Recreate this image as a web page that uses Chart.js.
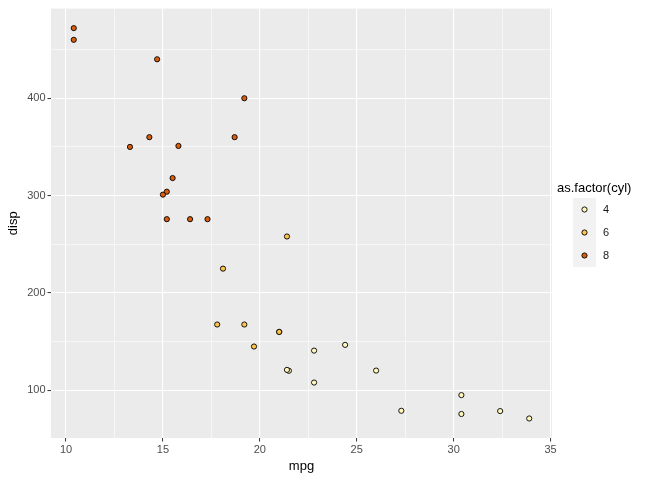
<!DOCTYPE html>
<html>
<head>
<meta charset="utf-8">
<script src="https://cdn.jsdelivr.net/npm/chart.js@4"></script>
<style>
  html, body { margin: 0; padding: 0; background: #fff; }
  #wrap { width: 672px; height: 480px; }
</style>
</head>
<body>
<div id="wrap"><canvas id="chart" width="672" height="480"></canvas></div>
<script>
// mtcars: mpg vs disp, filled by cylinders
const mpg = [21.0, 21.0, 22.8, 21.4, 18.7, 18.1, 14.3, 24.4, 22.8, 19.2, 17.8, 16.4, 17.3, 15.2, 10.4, 10.4,
  14.7, 32.4, 30.4, 33.9, 21.5, 15.5, 15.2, 13.3, 19.2, 27.3, 26.0, 30.4, 15.8, 19.7, 15.0, 21.4]
const disp = [160, 160, 108, 258, 360, 225, 360, 146.7, 140.8, 167.6, 167.6, 275.8, 275.8, 275.8, 472, 460,
  440, 78.7, 75.7, 71.1, 120.1, 318, 304, 350, 400, 79, 120.3, 95.1, 351, 145, 301, 121]
const cyl = [6, 6, 4, 6, 8, 6, 8, 4, 4, 6, 6, 8, 8, 8, 8, 8, 8, 4, 4, 4, 4, 8, 8, 8, 8, 4, 4, 4, 8, 6, 8, 4]

const cylLevels = [4, 6, 8]
const fills = ['#FFF7BC', '#FEC44F', '#D95F0E']

const xMajor = [10, 15, 20, 25, 30, 35]
const xMinor = [12.5, 17.5, 22.5, 27.5, 32.5]
const yMajor = [100, 200, 300, 400]
const yMinor = [150, 250, 350, 450]

const datasets = cylLevels.map(function (c, i) {
  const pts = []
  for (let k = 0; k < mpg.length; k++) {
    if (cyl[k] === c) pts.push({ x: mpg[k], y: disp[k] })
  }
  return {
    label: String(c),
    data: pts,
    backgroundColor: fills[i],
    borderColor: '#000',
    borderWidth: 0.9,
    pointRadius: 2.6,
    pointHoverRadius: 2.6
  }
})

const panelBg = {
  id: 'panelBg',
  beforeDraw(chart) {
    const a = chart.chartArea
    const ctx = chart.ctx
    ctx.save()
    ctx.fillStyle = '#EBEBEB'
    ctx.fillRect(a.left, a.top, a.right - a.left, a.bottom - a.top)
    ctx.restore()
  }
}

const ggLegend = {
  id: 'ggLegend',
  afterDraw(chart) {
    const ctx = chart.ctx
    ctx.save()
    ctx.fillStyle = '#000'
    ctx.font = '13px "Liberation Sans", Arial, sans-serif'
    ctx.textBaseline = 'middle'
    ctx.textAlign = 'left'
    ctx.fillText('as.factor(cyl)', 557, 188)
    ctx.fillStyle = '#F2F2F2'
    ctx.fillRect(573, 198, 23, 69)
    ctx.font = '11px "Liberation Sans", Arial, sans-serif'
    cylLevels.forEach(function (c, i) {
      const cy = 209.5 + i * 23
      ctx.beginPath()
      ctx.arc(584.5, cy, 2.6, 0, Math.PI * 2)
      ctx.fillStyle = fills[i]
      ctx.fill()
      ctx.lineWidth = 0.9
      ctx.strokeStyle = '#000'
      ctx.stroke()
      ctx.fillStyle = '#1a1a1a'
      ctx.fillText(String(c), 603, cy + 0.5)
    })
    ctx.restore()
  }
}

function axisOpts(major, minor, min, max, titleText, isX) {
  const all = major.concat(minor).sort(function (a, b) { return a - b })
  return {
    type: 'linear',
    position: isX ? 'bottom' : 'left',
    min: min,
    max: max,
    afterBuildTicks(scale) {
      scale.ticks = all.map(function (v) { return { value: v } })
    },
    afterFit(scale) {
      if (isX) scale.height = 42
      else scale.width = 51
    },
    border: { display: false },
    grid: {
      color: '#FFFFFF',
      lineWidth: function (c) { return c.tick && major.includes(c.tick.value) ? 1.1 : 0.55 },
      tickColor: function (c) { return c.tick && major.includes(c.tick.value) ? '#333333' : 'rgba(0,0,0,0)' },
      tickLength: 3.5,
      tickWidth: 1,
      drawTicks: true
    },
    ticks: {
      autoSkip: false,
      maxRotation: 0,
      padding: 2,
      color: '#4D4D4D',
      font: { family: '"Liberation Sans", Arial, sans-serif', size: 11 },
      callback: function (v) { return major.includes(v) ? String(v) : '' }
    },
    title: {
      display: true,
      text: titleText,
      color: '#000',
      font: { family: '"Liberation Sans", Arial, sans-serif', size: 13 },
      padding: isX ? { top: 0, bottom: 6 } : { top: 6, bottom: 0 }
    }
  }
}

new Chart(document.getElementById('chart'), {
  type: 'scatter',
  data: { datasets: datasets },
  options: {
    responsive: false,
    animation: false,
    events: [],
    layout: { padding: { top: 7, right: 120, left: 0, bottom: 0 } },
    plugins: {
      legend: { display: false },
      tooltip: { enabled: false }
    },
    scales: {
      x: axisOpts(xMajor, xMinor, 9.225, 35.075, 'mpg', true),
      y: axisOpts(yMajor, yMinor, 51.05, 492.05, 'disp', false)
    }
  },
  plugins: [panelBg, ggLegend]
})
</script>
</body>
</html>
